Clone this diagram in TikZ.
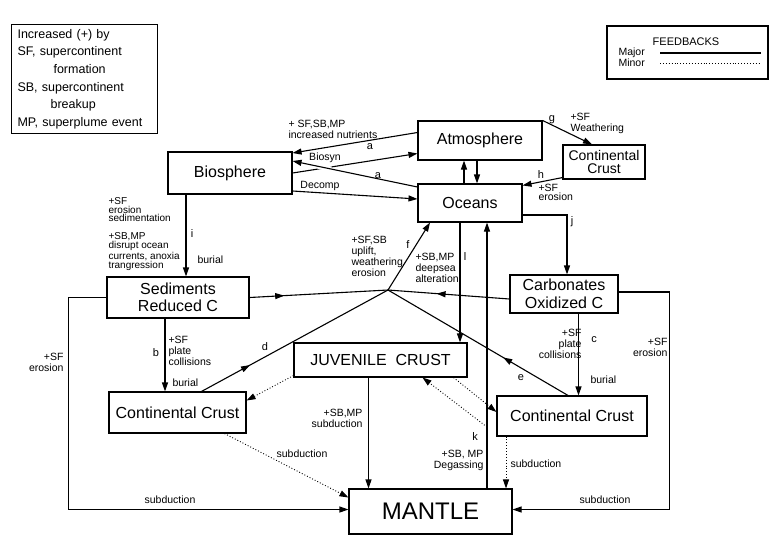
\documentclass[tikz,border=0pt]{standalone}
\usepackage{fontspec}
\setmainfont{Liberation Sans}
\usetikzlibrary{arrows.meta,decorations.markings}

\begin{document}
\begin{tikzpicture}[x=1pt, y=-1pt, line width=1.1pt, >={Triangle[length=9pt,width=6pt]},
		main node/.style={draw,rectangle,align=center,inner sep=1pt,font=\fontsize{16}{17.5}\selectfont},
		lbl/.style={inner sep=0pt,align=left,font=\fontsize{10.5}{11}\selectfont},
		tight lbl/.style={lbl,font=\fontsize{10}{8.5}\selectfont},
		letter/.style={inner sep=0pt,font=\fontsize{11}{11}\selectfont},
		minor/.style={dotted,line width=0.9pt},
		mid arrow/.style={postaction={decorate,decoration={markings,
				mark=at position #1 with {\arrow{Triangle[length=9pt,width=6pt]}}}}}]
			
			\useasboundingbox (0,0) rectangle (783,555);
			
			\node[draw, anchor=north west, text width=134pt, inner xsep=6pt, minimum height=109pt,
				align=left, font=\fontsize{12.5}{17.6}\selectfont] (key) at (11,24)
				{Increased (+) by\\SF, supercontinent\\\hspace*{36pt}formation\\SB, supercontinent\\\hspace*{33pt}breakup\\MP, superplume event};
			
			\node[draw, minimum width=161pt, minimum height=53pt] (fb) at (687.5,52.5) {};
			\node[letter] (fbt) at (686,42) {FEEDBACKS};
			\node[lbl, anchor=west] (mjr) at (618,53) {Major};
			\node[lbl, anchor=west] (mnr) at (618,62.5) {Minor};
			\draw (660,53) -- (761,53);
			\draw[minor] (660,63) -- (761,63);
			
			\node[main node, minimum width=124pt, minimum height=39pt] (atm) at (480,140.5) {Atmosphere};
			\node[main node, minimum width=104pt, minimum height=38pt] (ocn) at (470,203) {Oceans};
			\node[main node, minimum width=82pt, minimum height=34pt, font=\fontsize{14}{13}\selectfont] (cc1) at (604,162) {Continental\\Crust};
			\node[main node, minimum width=124pt, minimum height=42pt] (bio) at (230,173) {Biosphere};
			\node[main node, minimum width=142pt, minimum height=41pt] (sed) at (178,297.5) {Sediments\\Reduced C};
			\node[main node, minimum width=108pt, minimum height=38pt] (carb) at (564,294) {Carbonates\\Oxidized C};
			\node[main node, minimum width=173pt, minimum height=34pt] (juv) at (380.5,360) {JUVENILE\ \ CRUST};
			\node[main node, minimum width=137pt, minimum height=41pt] (cc2) at (177.5,412.5) {Continental Crust};
			\node[main node, minimum width=150pt, minimum height=40pt] (cc3) at (572,416) {Continental Crust};
			\node[main node, minimum width=163pt, minimum height=45pt, font=\fontsize{24}{24}\selectfont] (mantle) at (430.5,511.5) {MANTLE};
			
			\coordinate (jn) at (388,290);
			\coordinate (kd) at (487,427);
			
			\path[->]
			([yshift=8pt]atm.west) edge ([yshift=20pt]bio.east)
			(bio.east) edge ([yshift=-13pt]atm.west)
			([yshift=-18pt]bio.east) edge ([yshift=4pt]ocn.west)
			([xshift=-6pt]ocn.north) edge ([xshift=-6pt]ocn.north |- atm.south)
			([xshift=7pt]ocn.north |- atm.south) edge ([xshift=7pt]ocn.north)
			(atm.north east) edge ([xshift=-12pt]cc1.north)
			([yshift=2pt]cc1.south west) edge ([yshift=-2pt]ocn.north east)
			([xshift=-44pt]bio.south) edge ([xshift=-44pt]bio.south |- sed.north)
			(jn) edge ([xshift=-40pt]ocn.south)
			([xshift=-10pt]ocn.south) edge ([xshift=-10pt]ocn.south |- juv.north)
			([xshift=56.5pt]mantle.north) edge ([xshift=56.5pt]mantle.north |- ocn.south)
			([xshift=-12pt]juv.south) edge ([xshift=-12pt]juv.south |- mantle.north)
			([xshift=14.5pt]carb.south) edge ([xshift=14.5pt]carb.south |- cc3.north)
			([xshift=-13pt]sed.south) edge ([xshift=-13pt]sed.south |- cc2.north)
			;
			
			\draw[->, preaction={draw=white, line width=5pt, -, shorten <=88pt, shorten >=26pt}]
				([yshift=16pt]ocn.west) -- ([yshift=12pt]bio.east);
			\draw[->] ([yshift=-12pt]ocn.east) -| ([xshift=3pt]carb.north);
			
			\draw[mid arrow=0.25] (sed.east) -- (jn);
			\draw[mid arrow=0.6] ([yshift=-5pt]carb.west) -- (jn);
			\draw[mid arrow=0.26] ([xshift=24pt]cc2.north) -- (jn);
			\draw[mid arrow=0.36] ([xshift=-4pt]cc3.north) -- (jn);
			
			\path[minor,->]
			(kd) edge ([xshift=42pt]juv.south)
			([xshift=-14pt]juv.south east) edge ([yshift=4pt]cc3.west)
			([yshift=2pt]juv.south west) edge ([yshift=12pt]cc2.east)
			([xshift=47pt]cc2.south) edge ([yshift=14pt]mantle.west)
			([xshift=-66pt]cc3.south) edge ([xshift=-66pt]cc3.south |- mantle.north)
			;
			
			\draw[->] (sed.west) -- ++(-38,0) |- ([yshift=2pt]mantle.west);
			\draw[->] ([yshift=2pt]carb.east) -- ++(51,0) |- ([yshift=2pt]mantle.east);
			
			\node[lbl, anchor=west] (nutr) at (288,129) {+ SF,SB,MP\\increased nutrients};
			\node[letter] (a1) at (370,147) {a};
			\node[lbl] (bsyn) at (325,158) {Biosyn};
			\node[letter] (a2) at (378,176) {a};
			\node[lbl] (dcmp) at (320,186) {Decomp};
			\node[letter] (g) at (552,120) {g};
			\node[lbl, anchor=west] (gtxt) at (570,123) {+SF\\Weathering};
			\node[letter] (h) at (541,175) {h};
			\node[lbl, anchor=west, font=\fontsize{10.5}{9}\selectfont] (htxt) at (538,192.5) {+SF\\erosion};
			\node[letter] (j) at (572,222) {j};
			\node[letter] (i) at (192,234) {i};
			\node[lbl, anchor=west] (ibur) at (197,260) {burial};
			\node[tight lbl, anchor=west] (itxt1) at (108,210) {+SF\\erosion\\sedimentation};
			\node[tight lbl, anchor=west] (itxt2) at (108,251.5) {+SB,MP\\disrupt ocean\\currents, anoxia\\trangression};
			\node[lbl, anchor=west] (ftxt) at (351,256) {+SF,SB\\uplift,\\weathering\\erosion};
			\node[letter] (f) at (408,245) {f};
			\node[lbl, anchor=west] (ltxt) at (415,268) {+SB,MP\\deepsea\\alteration};
			\node[letter] (l) at (465,257) {l};
			\node[letter] (b) at (156,353) {b};
			\node[lbl, anchor=west] (btxt) at (168,351) {+SF\\plate\\collisions};
			\node[lbl, anchor=west] (bbur) at (172,383) {burial};
			\node[letter] (d) at (265,347) {d};
			\node[letter] (c) at (594,340) {c};
			\node[lbl, anchor=east, align=right] (ctxt) at (582,344) {+SF\\plate\\collisions};
			\node[lbl, anchor=west] (cbur) at (590,380) {burial};
			\node[letter] (e) at (521,378) {e};
			\node[lbl, anchor=east, align=right] (rero) at (668,347.5) {+SF\\erosion};
			\node[lbl, anchor=east, align=right] (lero) at (64,362.5) {+SF\\erosion};
			\node[lbl] (lsub) at (170,500) {subduction};
			\node[lbl] (csub) at (302,454) {subduction};
			\node[lbl, anchor=east, align=right] (jtxt) at (363,418.5) {+SB,MP\\subduction};
			\node[letter] (k) at (475,437) {k};
			\node[lbl, anchor=east, align=right] (ktxt) at (484,460) {+SB, MP\\Degassing};
			\node[lbl, anchor=west] (rsub1) at (510,464) {subduction};
			\node[lbl] (rsub2) at (605,500) {subduction};
			
\end{tikzpicture}
\end{document}
